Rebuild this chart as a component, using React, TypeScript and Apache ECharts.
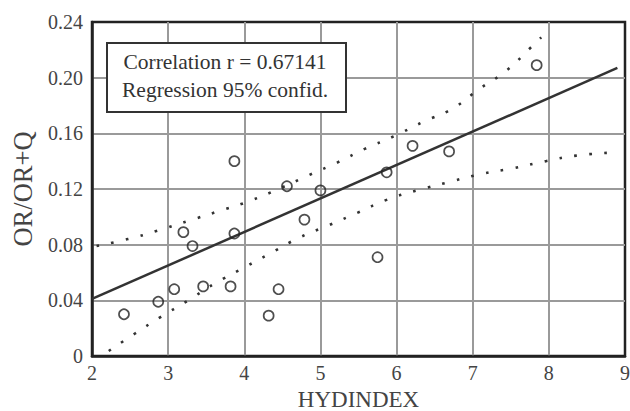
import React, { useEffect, useRef } from "react";
import * as echarts from "echarts";

const xTicks = [2, 3, 4, 5, 6, 7, 8, 9];
const yTicks = [0, 0.04, 0.08, 0.12, 0.16, 0.2, 0.24];

const pointsX = [2.42, 2.87, 3.08, 3.2, 3.32, 3.46, 3.82, 3.87, 3.87, 4.32, 4.45, 4.56, 4.79, 5.0, 5.75, 5.87, 6.21, 6.69, 7.84];
const pointsY = [0.03, 0.039, 0.048, 0.089, 0.079, 0.05, 0.05, 0.14, 0.088, 0.029, 0.048, 0.122, 0.098, 0.119, 0.071, 0.132, 0.151, 0.147, 0.209];

const regX = [2.0, 8.9];
const regY = [0.041, 0.207];

const upperX = [2.06, 2.47, 2.86, 3.26, 3.66, 4.05, 4.45, 4.85, 5.22, 5.59, 5.97, 6.34, 6.74, 7.09, 7.44, 7.75, 7.9];
const upperY = [0.079, 0.084, 0.09, 0.097, 0.104, 0.111, 0.12, 0.13, 0.139, 0.149, 0.158, 0.168, 0.178, 0.192, 0.205, 0.221, 0.229];

const lowerX = [2.22, 2.56, 2.9, 3.25, 3.61, 3.98, 4.35, 4.72, 5.11, 5.49, 5.86, 6.27, 6.69, 7.13, 7.54, 7.96, 8.36, 8.79];
const lowerY = [0.0036, 0.016, 0.028, 0.0395, 0.052, 0.063, 0.074, 0.085, 0.094, 0.103, 0.112, 0.119, 0.125, 0.131, 0.135, 0.14, 0.144, 0.146];

const legendLines = ["Correlation r = 0.67141", "Regression 95% confid."];

const FONT = "'Liberation Serif', 'Times New Roman', serif";

const zip = (xs: number[], ys: number[]) => xs.map((x, i) => [x, ys[i]]);

export default function App() {
  const ref = useRef<HTMLDivElement>(null);
  useEffect(() => {
    if (!ref.current) return;
    const chart = echarts.init(ref.current, undefined, { renderer: "svg" });
    const dotted = {
      color: "#333",
      width: 2.6,
      type: [2.6, 12.4],
      cap: "butt",
    };
    chart.setOption({
      animation: false,
      backgroundColor: "#fff",
      grid: {
        left: 92,
        right: 5,
        top: 22,
        bottom: 55,
        containLabel: false,
        outerBoundsMode: "none",
        show: true,
        borderColor: "#222",
        borderWidth: 2.5,
        backgroundColor: "transparent",
      },
      xAxis: {
        type: "value",
        min: xTicks[0],
        max: xTicks[xTicks.length - 1],
        interval: 1,
        name: "HYDINDEX",
        nameLocation: "middle",
        nameGap: 16,
        nameTextStyle: { fontFamily: FONT, fontSize: 23, lineHeight: 23, color: "#444" },
        axisLine: { show: true, lineStyle: { color: "#222", width: 2.5 } },
        axisTick: { show: false },
        axisLabel: { fontFamily: FONT, fontSize: 20, color: "#444", margin: 7 },
        splitLine: { show: true, showMinLine: false, showMaxLine: false, lineStyle: { color: "#9a9a9a", width: 2 } },
      },
      yAxis: {
        type: "value",
        min: yTicks[0],
        max: yTicks[yTicks.length - 1],
        interval: 0.04,
        name: "OR/OR+Q",
        nameLocation: "middle",
        nameGap: 56,
        nameTextStyle: { fontFamily: FONT, fontSize: 26.5, color: "#444" },
        axisLine: { show: true, lineStyle: { color: "#222", width: 2.5 } },
        axisTick: { show: false },
        axisLabel: {
          fontFamily: FONT,
          fontSize: 20,
          color: "#444",
          margin: 9,
          formatter: (v: number) => (v === 0 ? "0" : v.toFixed(2)),
        },
        splitLine: { show: true, showMinLine: false, showMaxLine: false, lineStyle: { color: "#9a9a9a", width: 2 } },
      },
      graphic: [
        {
          type: "rect",
          left: 106,
          top: 42,
          shape: { width: 239, height: 69 },
          style: { fill: "#fff", stroke: "#333", lineWidth: 2 },
          z: 100,
        },
        {
          type: "text",
          x: 225,
          y: 62,
          style: {
            text: legendLines[0],
            fontFamily: FONT,
            fontSize: 21.5,
            fill: "#333",
            align: "center",
            verticalAlign: "middle",
          },
          z: 101,
        },
        {
          type: "text",
          x: 225,
          y: 90,
          style: {
            text: legendLines[1],
            fontFamily: FONT,
            fontSize: 21.5,
            fill: "#333",
            align: "center",
            verticalAlign: "middle",
          },
          z: 101,
        },
      ],
      series: [
        {
          type: "line",
          data: zip(upperX, upperY),
          smooth: true,
          showSymbol: false,
          lineStyle: dotted,
          z: 3,
        },
        {
          type: "line",
          data: zip(lowerX, lowerY),
          smooth: true,
          showSymbol: false,
          lineStyle: dotted,
          z: 3,
        },
        {
          type: "line",
          data: zip(regX, regY),
          showSymbol: false,
          lineStyle: { color: "#333", width: 2.5 },
          z: 4,
        },
        {
          type: "scatter",
          data: zip(pointsX, pointsY),
          symbol: "circle",
          symbolSize: 10,
          itemStyle: { color: "rgba(0,0,0,0)", borderColor: "#222", borderWidth: 1.7 },
          z: 5,
        },
      ],
    });
    return () => chart.dispose();
  }, []);
  return (
    <div
      ref={ref}
      style={{ position: "fixed", left: 0, top: 0, width: 630, height: 411 }}
    />
  );
}
